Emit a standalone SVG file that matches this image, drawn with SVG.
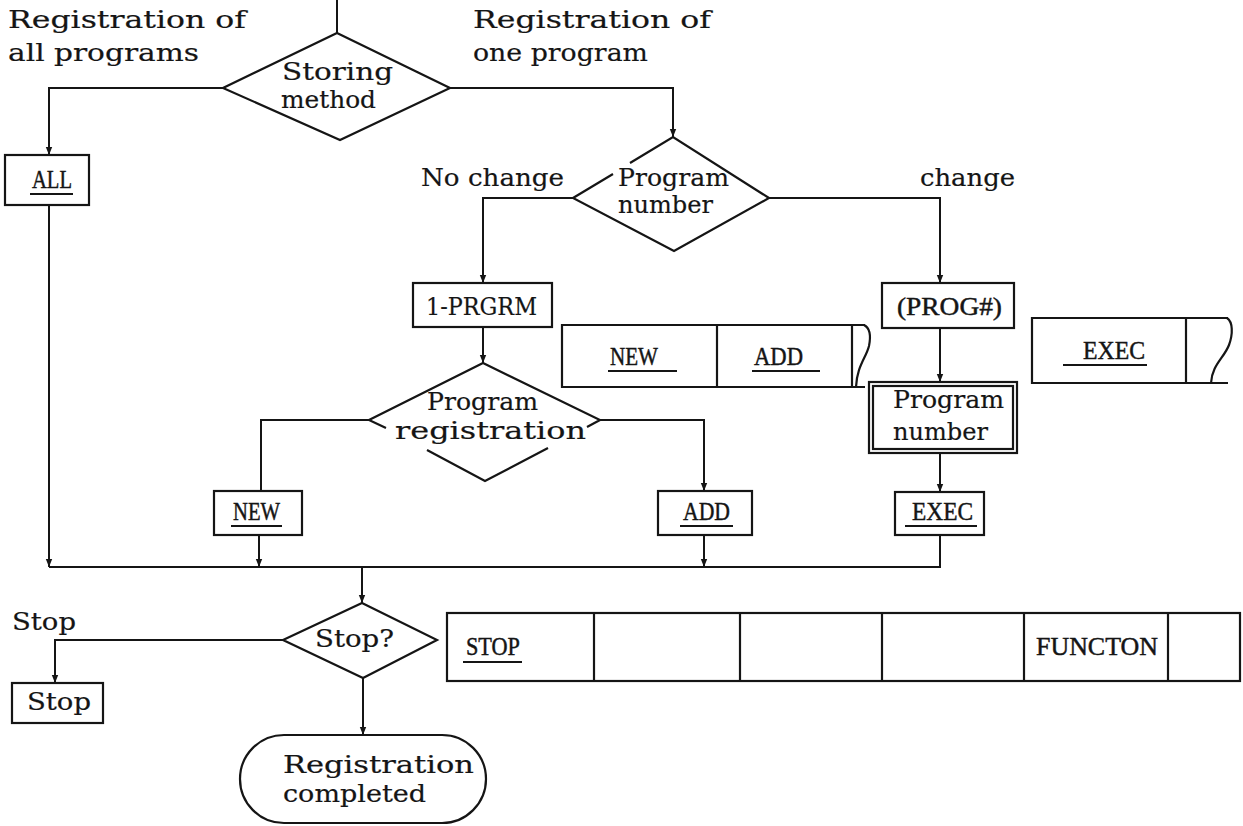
<svg xmlns="http://www.w3.org/2000/svg" width="1243" height="826" viewBox="0 0 1243 826">
  <style>
    .ln { fill: none; stroke: #151515; stroke-width: 2; stroke-linejoin: miter; }
    .arr { fill: none; stroke: #151515; stroke-width: 2; marker-end: url(#ah); }
    .box { fill: none; stroke: #151515; stroke-width: 2.2; }
    .tw { font-family: "DejaVu Serif", "Liberation Serif", serif; font-size: 25px; fill: #151515; stroke: #151515; stroke-width: 0.2; }
    .tws { font-size: 24px; }
    .sf { font-family: "Liberation Serif", "DejaVu Serif", serif; font-size: 25px; fill: #151515; stroke: #151515; stroke-width: 0.45; }
    .ul { fill: none; stroke: #151515; stroke-width: 2; }
  </style>
  <defs>
    <marker id="ah" markerUnits="userSpaceOnUse" viewBox="0 0 10 10" refX="10" refY="5" markerWidth="11" markerHeight="8" orient="auto">
      <path d="M0,1 L10,5 L0,9 Z" fill="#151515"/>
    </marker>
  </defs>

  <rect width="1243" height="826" fill="#ffffff"/>

  <!-- free labels on branches -->
  <g id="labels">
    <text class="tw" x="8" y="28" textLength="238" lengthAdjust="spacingAndGlyphs">Registration of</text>
    <text class="tw" x="8" y="61" textLength="191" lengthAdjust="spacingAndGlyphs">all programs</text>
    <text class="tw" x="473" y="28" textLength="238" lengthAdjust="spacingAndGlyphs">Registration of</text>
    <text class="tw" x="473" y="61" textLength="175" lengthAdjust="spacingAndGlyphs">one program</text>
    <text class="tw" x="421" y="186" textLength="143" lengthAdjust="spacingAndGlyphs">No change</text>
    <text class="tw" x="920" y="186" textLength="95" lengthAdjust="spacingAndGlyphs">change</text>
    <text class="tw" x="12" y="630" textLength="64" lengthAdjust="spacingAndGlyphs">Stop</text>
  </g>

  <!-- connectors -->
  <g id="connectors">
    <path class="ln" d="M337,0 V33"/>
    <path class="arr" d="M223,88 H49 V155"/>
    <path class="arr" d="M450,88 H673 V137"/>
    <path class="arr" d="M573,198 H483 V283"/>
    <path class="arr" d="M769,198 H940 V283"/>
    <path class="arr" d="M483,327 V363"/>
    <path class="ln" d="M369,420 H261 V491"/>
    <path class="arr" d="M600,420 H704 V491"/>
    <path class="arr" d="M940,328 V382"/>
    <path class="arr" d="M940,453 V492"/>
    <path class="ln" d="M940,535 V567 H49"/>
    <path class="arr" d="M49,205 V567"/>
    <path class="arr" d="M259,535 V567"/>
    <path class="arr" d="M704,535 V567"/>
    <path class="arr" d="M362,567 V603"/>
    <path class="arr" d="M283,640 H55 V683"/>
    <path class="arr" d="M363,678 V735"/>
  </g>

  <!-- decision: storing method -->
  <g id="storing-method">
    <path class="box" d="M337,33 L450,88 L340,140 L223,88 Z"/>
    <text class="tw tws" x="282" y="80" textLength="111" lengthAdjust="spacingAndGlyphs">Storing</text>
    <text class="tw tws" x="281" y="108" textLength="95" lengthAdjust="spacingAndGlyphs">method</text>
  </g>

  <g id="all">
    <rect class="box" x="5" y="155" width="84" height="50"/>
    <text class="sf" x="32" y="188" textLength="40" lengthAdjust="spacingAndGlyphs">ALL</text>
    <line class="ul" x1="30" y1="194" x2="73" y2="194"/>
  </g>

  <!-- decision: program number -->
  <g id="program-number-decision">
    <path class="box" d="M630,163 L673,137 L769,198 L674,251 L573,198 L613,174"/>
    <text class="tw tws" x="618" y="186" textLength="111" lengthAdjust="spacingAndGlyphs">Program</text>
    <text class="tw tws" x="618" y="213" textLength="95" lengthAdjust="spacingAndGlyphs">number</text>
  </g>

  <g id="one-program">
    <rect class="box" x="413" y="283" width="139" height="44"/>
    <text class="tw" x="426" y="315" textLength="111" lengthAdjust="spacingAndGlyphs">1-PRGRM</text>
  </g>

  <g id="prog-key">
    <rect class="box" x="882" y="283" width="132" height="45"/>
    <text class="sf" x="897" y="315" textLength="105" lengthAdjust="spacingAndGlyphs">(PROG#)</text>
  </g>

  <!-- soft-key strip: NEW / ADD -->
  <g id="new-add-keys">
    <path class="box" d="M865,325 H562 V387 H865"/>
    <line class="box" x1="717" y1="325" x2="717" y2="387"/>
    <line class="box" x1="852" y1="325" x2="852" y2="387"/>
    <path class="box" d="M864,325 C870,328 871,336 869,346 C866,358 857,366 856,387"/>
    <text class="sf" x="610" y="365" textLength="48" lengthAdjust="spacingAndGlyphs">NEW</text>
    <line class="ul" x1="608" y1="371" x2="677" y2="371"/>
    <text class="sf" x="754" y="365" textLength="49" lengthAdjust="spacingAndGlyphs">ADD</text>
    <line class="ul" x1="752" y1="371" x2="820" y2="371"/>
  </g>

  <!-- soft-key strip: EXEC -->
  <g id="exec-key">
    <path class="box" d="M1228,318 H1032 V383 H1228"/>
    <line class="box" x1="1186" y1="318" x2="1186" y2="383"/>
    <path class="box" d="M1227,318 C1233,322 1233,334 1229,345 C1224,358 1212,365 1211,383"/>
    <text class="sf" x="1083" y="359" textLength="62" lengthAdjust="spacingAndGlyphs">EXEC</text>
    <line class="ul" x1="1063" y1="365" x2="1147" y2="365"/>
  </g>

  <!-- decision: program registration -->
  <g id="program-registration">
    <path class="box" d="M587,427 L600,420 L483,363 L369,420 L386,428 M427,450 L485,481 L548,448"/>
    <text class="tw" x="427" y="410" textLength="111" lengthAdjust="spacingAndGlyphs">Program</text>
    <text class="tw" x="395" y="439" textLength="191" lengthAdjust="spacingAndGlyphs">registration</text>
  </g>

  <!-- input: program number -->
  <g id="program-number-input">
    <rect class="box" x="869" y="382" width="148" height="71"/>
    <rect class="box" x="873" y="386" width="140" height="63" stroke-width="1.4"/>
    <text class="tw" x="893" y="408" textLength="111" lengthAdjust="spacingAndGlyphs">Program</text>
    <text class="tw" x="893" y="440" textLength="95" lengthAdjust="spacingAndGlyphs">number</text>
  </g>

  <g id="new">
    <rect class="box" x="214" y="491" width="88" height="44"/>
    <text class="sf" x="233" y="520" textLength="47" lengthAdjust="spacingAndGlyphs">NEW</text>
    <line class="ul" x1="231" y1="526" x2="282" y2="526"/>
  </g>

  <g id="add">
    <rect class="box" x="658" y="491" width="94" height="44"/>
    <text class="sf" x="683" y="520" textLength="47" lengthAdjust="spacingAndGlyphs">ADD</text>
    <line class="ul" x1="680" y1="526" x2="733" y2="526"/>
  </g>

  <g id="exec">
    <rect class="box" x="895" y="492" width="89" height="43"/>
    <text class="sf" x="912" y="520" textLength="61" lengthAdjust="spacingAndGlyphs">EXEC</text>
    <line class="ul" x1="905" y1="526" x2="977" y2="526"/>
  </g>

  <!-- decision: stop? -->
  <g id="stop-decision">
    <path class="box" d="M362,603 L437,640 L363,678 L283,640 Z"/>
    <text class="tw" x="315" y="647" textLength="79" lengthAdjust="spacingAndGlyphs">Stop?</text>
  </g>

  <!-- soft-key strip: STOP ... FUNCTON -->
  <g id="stop-keys">
    <rect class="box" x="447" y="613" width="793" height="68"/>
    <line class="box" x1="594" y1="613" x2="594" y2="681"/>
    <line class="box" x1="740" y1="613" x2="740" y2="681"/>
    <line class="box" x1="882" y1="613" x2="882" y2="681"/>
    <line class="box" x1="1024" y1="613" x2="1024" y2="681"/>
    <line class="box" x1="1168" y1="613" x2="1168" y2="681"/>
    <text class="sf" x="466" y="655" textLength="54" lengthAdjust="spacingAndGlyphs">STOP</text>
    <line class="ul" x1="463" y1="662" x2="522" y2="662"/>
    <text class="sf" x="1036" y="655" textLength="122" lengthAdjust="spacingAndGlyphs">FUNCTON</text>
  </g>

  <g id="stop">
    <rect class="box" x="12" y="683" width="91" height="40"/>
    <text class="tw" x="27" y="710" textLength="64" lengthAdjust="spacingAndGlyphs">Stop</text>
  </g>

  <!-- terminal -->
  <g id="registration-completed">
    <rect class="box" x="240" y="735" width="246" height="88" rx="44" ry="44"/>
    <text class="tw" x="283" y="773" textLength="191" lengthAdjust="spacingAndGlyphs">Registration</text>
    <text class="tw" x="283" y="802" textLength="143" lengthAdjust="spacingAndGlyphs">completed</text>
  </g>
</svg>
